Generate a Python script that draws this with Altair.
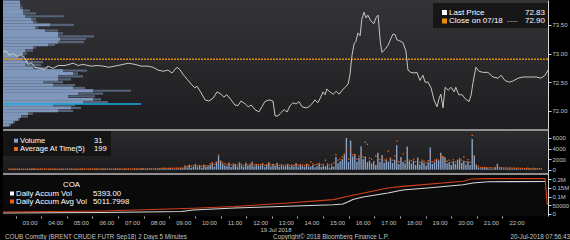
import altair as alt
import pandas as pd

FONT = "Liberation Sans"
W = 545
H_TOP, H_VOL, H_ACC = 129, 44, 43
X_DOMAIN = [1.966, 23.23]

# ---------------- price (5 minute bars) ----------------
price_time = ["01:58","02:05","02:12","02:21","02:31","02:40","02:50","02:57","03:04","03:13",
              "03:25","03:36","03:43","03:55","04:07","04:23","04:42","04:54","05:05","05:24",
              "05:40","05:52","06:06","06:20","06:39","06:51","07:07","07:21","07:37","07:49",
              "08:01","08:13","08:24","08:34","08:45","08:52","08:59","09:09","09:18","09:27",
              "09:32","09:42","09:51","10:00","10:10","10:19","10:28","10:35","10:42","10:52",
              "11:01","11:08","11:15","11:25","11:32","11:39","11:48","11:57","12:04","12:11",
              "12:21","12:30","12:35","12:42","12:49","12:56","13:03","13:10","13:17","13:24",
              "13:31","13:38","13:47","13:54","14:01","14:08","14:15","14:22","14:27","14:32",
              "14:36","14:43","14:51","14:58","15:05","15:12","15:19","15:26","15:30","15:35",
              "15:40","15:44","15:49","15:54","15:58","16:03","16:08","16:12","16:19","16:26",
              "16:31","16:36","16:41","16:45","16:52","16:59","17:06","17:11","17:16","17:20",
              "17:27","17:34","17:41","17:46","17:53","18:00","18:07","18:14","18:21","18:26",
              "18:33","18:40","18:47","18:54","18:59","19:03","19:08","19:13","19:20","19:27",
              "19:34","19:38","19:45","19:53","20:00","20:09","20:14","20:18","20:25","20:32",
              "20:42","20:53","21:05","21:17","21:24","21:33","21:43","21:52","22:04","22:15",
              "22:32","22:46","22:57","23:07","23:14"]
price_value = [73.02,73.05,72.97,73.00,72.95,72.98,72.91,72.81,72.84,72.76,
               72.74,72.72,72.78,72.74,72.79,72.79,72.83,72.79,72.81,72.78,
               72.79,72.78,72.76,72.78,72.81,72.83,72.81,72.78,72.78,72.76,
               72.71,72.69,72.71,72.66,72.76,72.72,72.64,72.55,72.47,72.40,
               72.43,72.31,72.19,72.17,72.22,72.33,72.29,72.24,72.28,72.19,
               72.10,72.09,72.17,72.12,72.07,72.10,72.02,71.98,72.07,72.16,
               72.19,72.17,71.91,71.91,71.97,72.02,71.98,72.09,72.14,72.12,
               72.16,72.07,72.05,72.07,72.12,72.19,72.14,72.24,72.33,72.28,
               72.38,72.33,72.29,72.34,72.29,72.36,72.41,72.47,72.62,72.97,
               73.17,73.21,73.36,73.31,73.60,73.72,73.62,73.67,73.57,73.52,
               73.62,73.67,73.22,73.02,73.07,73.14,73.26,73.34,73.33,73.24,
               73.22,73.19,73.05,72.71,72.67,72.66,72.67,72.53,72.62,72.50,
               72.50,72.40,72.19,72.07,72.22,72.29,72.05,72.41,72.36,72.41,
               72.33,72.41,72.28,72.28,72.21,72.16,72.28,72.48,72.76,72.69,
               72.67,72.67,72.59,72.57,72.62,72.53,72.50,72.52,72.57,72.59,
               72.59,72.59,72.57,72.62,72.71]

prev_close = 72.90

# ---------------- volume profile (left histogram) ----------------
profile_price = [73.90,73.85,73.80,73.75,73.70,73.65,73.60,73.55,73.50,73.45,
                 73.40,73.35,73.30,73.25,73.20,73.15,73.10,73.05,73.00,72.95,
                 72.90,72.85,72.80,72.75,72.70,72.65,72.60,72.55,72.50,72.45,
                 72.40,72.35,72.30,72.25,72.20,72.15,72.10,72.05,72.00,71.95,
                 71.90,71.85,71.80,71.75]
profile_recent = [170,170,170,200,200,220,280,300,470,320,
                  420,550,550,570,550,450,300,220,200,150,
                  200,250,220,300,600,700,550,550,400,500,
                  700,900,750,650,900,800,500,680,550,250,
                  180,150,100,60]
profile_total = [170,180,200,270,330,610,330,340,710,350,
                 550,600,910,830,810,520,330,300,240,220,
                 300,400,380,450,840,750,800,680,600,720,
                 820,1280,1000,920,980,1050,720,780,700,300,
                 250,170,120,80]
poc_price = 72.12
poc_volume = 1380
PROFILE_DOMAIN = [0, 5450]

# ---------------- volume bars, 5 minutes, by hour ----------------
vol_hours = list(range(2, 24))
volume_by_hour = [
    [40,120,90,60,150,80,70,110,60,90,130,70],
    [160,90,110,70,140,80,60,120,90,70,150,100],
    [80,120,60,90,140,70,110,60,130,80,90,120],
    [100,60,90,140,80,70,120,60,100,90,150,80],
    [120,90,70,160,80,110,60,140,90,120,80,100],
    [150,110,90,130,170,80,120,100,140,90,160,120],
    [200,150,260,180,140,300,220,170,250,190,280,210],
    [650,420,900,380,560,1100,480,720,350,880,520,640],
    [900,1300,600,1500,2600,1700,1100,800,700,1200,500,950],
    [1100,600,1400,800,500,1300,700,900,1500,600,1000,750],
    [800,1200,500,900,1400,600,1000,700,1300,500,850,650],
    [700,1000,500,800,600,1200,450,900,700,550,1100,600],
    [600,900,450,700,1100,500,800,650,950,400,750,600],
    [2400,1200,1600,2000,2860,6000,1500,5500,2500,2860,1500,2230],
    [4450,2000,2500,1400,1700,1200,1600,900,3200,1500,2800,1300],
    [1800,1500,2100,1300,1900,4650,1100,2400,1500,1200,4400,1600],
    [1200,1700,900,2200,1000,1600,1300,800,1400,4200,1100,1500],
    [1900,1700,3200,2600,2300,1200,1400,900,1600,1100,1800,2000],
    [1300,1700,1000,1600,900,5800,2700,800,400,250,300,350],
    [300,200,250,150,350,1100,250,300,180,220,160,200],
    [200,150,120,180,100,140,90,160,110,80,130,70],
    [90,60,31],
]
avg_by_hour = [
    [110,100,130,90,120,140,100,90,120,110,100,130],
    [130,120,110,140,100,130,120,110,140,120,130,110],
    [120,140,110,130,150,120,140,110,130,120,140,130],
    [140,120,130,150,120,130,140,110,130,140,150,120],
    [150,130,140,160,130,150,120,160,140,150,130,140],
    [170,150,160,180,190,150,170,160,180,160,190,170],
    [250,220,300,260,240,310,280,260,300,270,320,290],
    [700,600,850,650,750,900,700,800,650,850,750,700],
    [1100,1300,1000,1400,2800,1600,1300,1100,1000,1300,900,1100],
    [1000,900,1200,1000,800,1100,900,1000,1200,900,1000,950],
    [950,1100,800,1000,1200,900,1000,900,1100,800,950,850],
    [900,1000,800,900,850,1100,800,950,900,800,1050,850],
    [1500,1100,900,1000,1200,900,1000,1800,1100,900,1000,1300],
    [2800,1800,2000,2400,3000,4000,2000,3600,2800,2900,2000,2500],
    [3000,2400,5200,4800,2200,2000,1500,2600,2800,1900,2200,1800],
    [2000,3500,2200,1800,2600,5400,1500,1900,3000,1600,3000,1800],
    [1700,2000,1500,2200,1400,1800,1600,1300,1700,2800,1500,1800],
    [2000,1800,2600,2400,2200,1600,1800,1400,1900,1500,1800,2100],
    [1800,2400,1500,1900,1400,6500,2500,900,600,400,450,420],
    [400,350,380,300,420,700,380,400,320,350,300,320],
    [300,280,250,300,220,260,200,280,230,200,250,180],
    [200,180,199],
]

# ---------------- daily accumulated volume ----------------
accum_time = ["01:58","05:52","08:55","09:23","11:00","13:05","14:51","15:14","15:26","15:37",
              "16:01","16:59","17:34","18:45","19:55","20:18","20:53","23:07"]
accum_vol = [5700,8600,14000,23000,34000,44000,53000,57000,70000,83000,
             97000,120000,137000,151000,167000,177000,184000,186000]
accum_avg_time = ["01:58","05:52","09:23","11:00","13:05","14:51","15:26","16:59","17:34","19:55",
                  "20:14","20:53","23:07","23:12"]
accum_avg = [11000,17000,33000,43000,63000,82000,101000,149000,158000,187000,
             200000,202000,203000,51000]


def to_hour(s):
    h, m = s.split(":")
    return int(h) + int(m) / 60.0


price_df = pd.DataFrame({"hour": [to_hour(t) for t in price_time], "price": price_value})
profile_df = pd.DataFrame({"price": profile_price, "recent": profile_recent, "total": profile_total})
poc_df = pd.DataFrame({"price": [poc_price], "vol": [poc_volume]})
rows = []
for h, vs, av in zip(vol_hours, volume_by_hour, avg_by_hour):
    for i, (v, a) in enumerate(zip(vs, av)):
        rows.append({"hour": h + i * 5 / 60.0, "volume": v, "avg": a})
vol_df = pd.DataFrame(rows)
acc_df = pd.DataFrame({"hour": [to_hour(t) for t in accum_time], "value": accum_vol})
acc_avg_df = pd.DataFrame({"hour": [to_hour(t) for t in accum_avg_time], "value": accum_avg})
ONE = pd.DataFrame({"k": [0]})

XS = alt.Scale(domain=X_DOMAIN, nice=False, zero=False)
LABEL_C = "#c4c4c4"


def right_axis(values, fmt=None, expr=None):
    kw = dict(orient="right", values=values, title=None, grid=False, labelFontSize=6,
              labelColor=LABEL_C, tickColor="#d0d0d0", tickSize=3, labelPadding=1,
              domainColor="#d8d8d8", domainWidth=1, labelFont=FONT,
              labelOverlap=False, labelFlush=False, labelBound=False)
    if fmt:
        kw["format"] = fmt
    if expr:
        kw["labelExpr"] = expr
    return alt.Axis(**kw)


def txt(s, x, y, size=8, color="#ffffff", align="left"):
    return alt.Chart(ONE).mark_text(text=s, fontSize=size, color=color, align=align,
                                    baseline="middle", font=FONT).encode(
        x=alt.value(x), y=alt.value(y))


def box(x, y, x2, y2, color, opacity=1.0):
    return alt.Chart(ONE).mark_rect(color=color, opacity=opacity).encode(
        x=alt.value(x), x2=alt.value(x2), y=alt.value(y), y2=alt.value(y2))


def grad_bg(h, c1, c2):
    return alt.Chart(ONE).mark_rect(fill=alt.Gradient(
        gradient="linear", x1=0, x2=0, y1=0, y2=1,
        stops=[alt.GradientStop(color=c1, offset=0), alt.GradientStop(color=c2, offset=1)])).encode(
        x=alt.value(0), x2=alt.value(W), y=alt.value(0), y2=alt.value(h))


def sep():
    return alt.Chart(ONE).mark_rule(color="#8f8f8f", strokeWidth=2).encode(
        x=alt.value(0), x2=alt.value(W), y=alt.value(1))


# ---------------- top panel ----------------
PY = alt.Scale(domain=[71.682, 73.934], nice=False, zero=False)
PX = alt.Scale(domain=PROFILE_DOMAIN, nice=False)
TOP_AXIS = right_axis([72.0, 72.5, 73.0, 73.5], fmt=".2f")

prof_dark = alt.Chart(profile_df).mark_rule(color="#566276", strokeWidth=2.2).encode(
    x=alt.X("total:Q", scale=PX, axis=None), x2=alt.datum(0),
    y=alt.Y("price:Q", scale=PY, axis=TOP_AXIS))
prof_light = alt.Chart(profile_df).mark_rule(color="#7f97bb", strokeWidth=2.9).encode(
    x=alt.X("recent:Q", scale=PX, axis=None), x2=alt.datum(0),
    y=alt.Y("price:Q", scale=PY, axis=TOP_AXIS))
poc = alt.Chart(poc_df).mark_rule(color="#16aee6", strokeWidth=1.5).encode(
    x=alt.X("vol:Q", scale=PX, axis=None), x2=alt.datum(0),
    y=alt.Y("price:Q", scale=PY, axis=TOP_AXIS))
profile = alt.layer(prof_dark, prof_light, poc)

close_rule = alt.Chart(ONE).mark_rule(color="#e08a12", strokeWidth=1.3, strokeDash=[2, 1]).encode(
    y=alt.Y(datum=prev_close, type="quantitative", scale=PY, axis=TOP_AXIS))
price_line = alt.Chart(price_df).mark_line(color="#cfcfcf", strokeWidth=0.95, clip=True).encode(
    x=alt.X("hour:Q", scale=XS, axis=None),
    y=alt.Y("price:Q", scale=PY, axis=TOP_AXIS))

top_legend = alt.layer(
    box(430, 3, 545, 28, "#151515", 0.92),
    box(439, 10, 444, 15, "#ffffff"),
    box(439, 18.5, 444, 23.5, "#f08c10"),
    txt("Last Price", 446, 12.5),
    txt("72.83", 542, 12.5, align="right"),
    txt("Close on 07/18", 446, 21),
    txt("----", 504, 21, color="#bbbbbb"),
    txt("72.90", 542, 21, align="right"),
)

top = alt.layer(grad_bg(H_TOP, "#343337", "#1d1d1f"), profile, close_rule, price_line,
                top_legend).resolve_scale(x="independent").properties(width=W, height=H_TOP)

# ---------------- volume panel ----------------
VY = alt.Scale(domain=[-625, 7703], nice=False, zero=False)
VOL_AXIS = right_axis([0, 2000, 4000, 6000], fmt="d")
vol_bars = alt.Chart(vol_df).mark_bar(width=1.4, color="#8aa2c6").encode(
    x=alt.X("hour:Q", scale=XS, axis=None),
    y=alt.Y("volume:Q", scale=VY, axis=VOL_AXIS),
    y2=alt.datum(0))
vol_dots = alt.Chart(vol_df).mark_square(size=1.8, color="#ee6418", opacity=1).encode(
    x=alt.X("hour:Q", scale=XS, axis=None),
    y=alt.Y("avg:Q", scale=VY, axis=VOL_AXIS))
vol_legend = alt.layer(
    box(0, 2, 108, 27, "#141414", 0.92),
    box(11, 9.7, 15, 13.7, "#8aa2c6"),
    box(11, 18, 15, 22, "#ee6418"),
    txt("Volume", 17, 11.7, size=7.6),
    txt("31", 91, 11.7, size=7.6),
    txt("Average At Time(5)", 17, 20, size=7.6),
    txt("199", 91, 20, size=7.6),
)
vol = alt.layer(grad_bg(H_VOL, "#2c2c2e", "#1b1b1d"), sep(), vol_bars, vol_dots,
                vol_legend).properties(width=W, height=H_VOL)

# ---------------- accumulated volume panel ----------------
AY = alt.Scale(domain=[-11430, 234290], nice=False, zero=False)
XAXIS = alt.Axis(values=list(range(3, 23)),
                 labelExpr="(datum.value < 10 ? '0' : '') + datum.value + ':00'",
                 labelFontSize=6, labelColor=LABEL_C, labelFont=FONT, labelPadding=1,
                 domain=False, ticks=True, tickSize=2, tickColor="#bbbbbb",
                 tickOffset=-14, labelOffset=14, grid=False, labelOverlap=False,
                 title="19 Jul 2018", titleFontSize=6, titleFontWeight="normal",
                 titleColor=LABEL_C, titleFont=FONT, titlePadding=1)
ACC_AXIS = right_axis([0, 50000, 100000, 150000, 200000],
                      expr="datum.value >= 100000 ? (datum.value / 1000000) + 'M' : datum.value + ''")
acc_white = alt.Chart(acc_df).mark_line(color="#d8d8d8", strokeWidth=1.1).encode(
    x=alt.X("hour:Q", scale=XS, axis=XAXIS),
    y=alt.Y("value:Q", scale=AY, axis=ACC_AXIS))
acc_orange = alt.Chart(acc_avg_df).mark_line(color="#d2401a", strokeWidth=1.1).encode(
    x=alt.X("hour:Q", scale=XS, axis=XAXIS),
    y=alt.Y("value:Q", scale=AY, axis=ACC_AXIS))
acc_legend = alt.layer(
    txt("COA", 60, 11.7, size=7.8),
    box(7, 18.5, 11, 22.5, "#ffffff"),
    box(7, 26.5, 11, 30.5, "#ee5a18"),
    txt("Daily Accum Vol", 13, 20.5, size=7.8),
    txt("5393.00", 90, 20.5, size=7.8),
    txt("Daily Accum Avg Vol", 13, 28.5, size=7.8),
    txt("5011.7998", 90, 28.5, size=7.8),
)
footer = alt.layer(
    txt("COUB Comdty (BRENT CRUDE FUTR  Sep18) 2 Days 5 Minutes", 2, 63.7, size=6.3, color=LABEL_C),
    txt("Copyright\u00a9 2018 Bloomberg Finance L.P.", 328, 63.7, size=6.3, color=LABEL_C, align="center"),
    txt("20-Jul-2018 07:56:43", 567, 63.7, size=6.3, color=LABEL_C, align="right"),
)
acc = alt.layer(box(0, 0, W, H_ACC, "#0a0a0b"), sep(), acc_white, acc_orange, acc_legend,
                footer).properties(width=W, height=H_ACC)

chart = alt.vconcat(top, vol, acc, spacing=0, bounds="flush").properties(
    background="#000000", padding=0
).configure_view(strokeWidth=0)

chart.save("out.html", embed_options={"renderer": "svg", "actions": False})
